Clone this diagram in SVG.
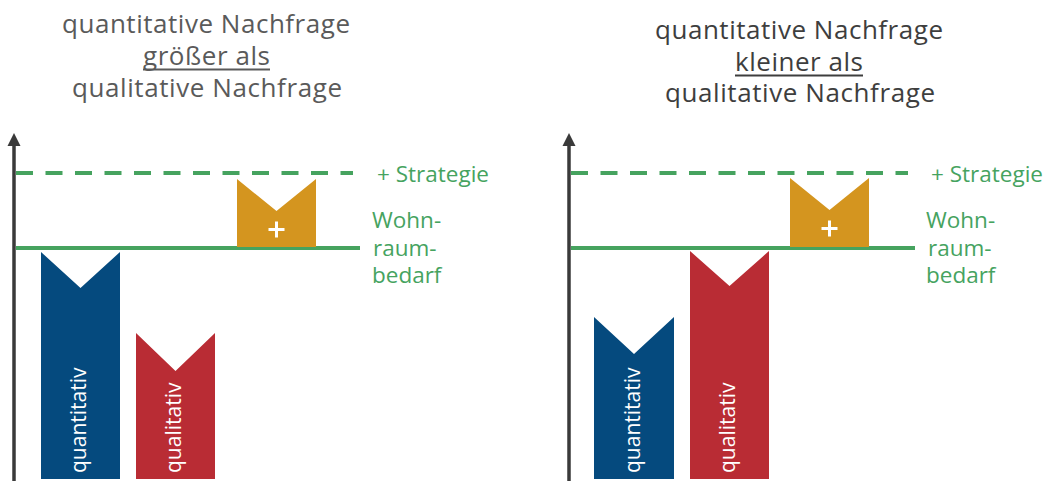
<svg xmlns="http://www.w3.org/2000/svg" width="1056" height="481" viewBox="0 0 1056 481">
  <defs>
    <style>
      .title { font-family: "Open Sans", "Liberation Sans", sans-serif; font-size: 26px; font-weight: 500; text-anchor: middle; }
      .tl { fill: #5a5a5a; }
      .tr { fill: #3e3e3e; }
      .ul { stroke-width: 1.8; }
      .grn { font-family: "Open Sans", "Liberation Sans", sans-serif; font-size: 22.5px; font-weight: 500; fill: #46a35f; }
      .bartxt { font-family: "Open Sans", "Liberation Sans", sans-serif; font-size: 21px; font-weight: 500; fill: #ffffff; }
      .axis { stroke: #3a3a3a; stroke-width: 3.5; fill: none; }
      .base { stroke: url(#gray); stroke-width: 2.5; }
      .solid { stroke: #46a35f; stroke-width: 4; }
      .dash { stroke: #46a35f; stroke-width: 4; stroke-dasharray: 17 12.5; }
      .blue { fill: #054a7e; }
      .red { fill: #b92c34; }
      .gold { fill: #d4951f; }
      .plus { stroke: #ffffff; stroke-width: 3; }
    </style>
    <linearGradient id="gray" x1="0" y1="0" x2="1" y2="0">
      <stop offset="0" stop-color="#444444"/>
      <stop offset="1" stop-color="#aaaaaa"/>
    </linearGradient>
  </defs>

  <!-- Left panel -->
  <g id="title-left">
    <text class="title tl" x="206" y="33" textLength="288" lengthAdjust="spacing">quantitative Nachfrage</text>
    <text class="title tl" x="206.5" y="65" textLength="127" lengthAdjust="spacing">größer als</text>
    <line class="ul" x1="143" y1="69.5" x2="270" y2="69.5" stroke="#5a5a5a"/>
    <text class="title tl" x="207" y="97" textLength="270" lengthAdjust="spacing">qualitative Nachfrage</text>
  </g>

  <g id="connectors">
    <line class="axis" x1="14" y1="481" x2="14" y2="140"/>
    <path d="M7.5,146 L14,133 L20.5,146 Z" fill="#3a3a3a"/>
    <line class="base" x1="12" y1="480" x2="360" y2="480"/>
    <line class="dash" x1="16" y1="173" x2="353" y2="173"/>
    <line class="solid" x1="16" y1="248" x2="360" y2="248"/>

    <line class="axis" x1="569" y1="481" x2="569" y2="140"/>
    <path d="M562.5,146 L569,133 L575.5,146 Z" fill="#3a3a3a"/>
    <line class="base" x1="567" y1="480" x2="915" y2="480"/>
    <line class="dash" x1="571" y1="173" x2="908" y2="173"/>
    <line class="solid" x1="571" y1="248" x2="915" y2="248"/>
  </g>

  <g id="labels-left">
    <text class="grn" x="377" y="182">+ Strategie</text>
    <text class="grn" x="372" y="228">Wohn-</text>
    <text class="grn" x="373" y="256">raum-</text>
    <text class="grn" x="372" y="283">bedarf</text>
  </g>

  <g id="bar-quantitativ-left">
    <path class="blue" d="M41,252 L80.5,288 L120,252 L120,479 L41,479 Z"/>
    <text class="bartxt" transform="translate(86,473) rotate(-90)">quantitativ</text>
  </g>
  <g id="bar-qualitativ-left">
    <path class="red" d="M136,333 L175.5,371 L215,333 L215,479 L136,479 Z"/>
    <text class="bartxt" transform="translate(181,473) rotate(-90)">qualitativ</text>
  </g>
  <g id="bar-strategie-left">
    <path class="gold" d="M237,179 L276.5,211 L316,179 L316,247 L237,247 Z"/>
    <line class="plus" x1="268.5" y1="229.5" x2="284.5" y2="229.5"/>
    <line class="plus" x1="276.5" y1="221.5" x2="276.5" y2="237.5"/>
  </g>

  <!-- Right panel -->
  <g id="title-right">
    <text class="title tr" x="799" y="39" textLength="288" lengthAdjust="spacing">quantitative Nachfrage</text>
    <text class="title tr" x="799" y="71" textLength="128" lengthAdjust="spacing">kleiner als</text>
    <line class="ul" x1="735" y1="75.5" x2="863" y2="75.5" stroke="#3e3e3e"/>
    <text class="title tr" x="800" y="102" textLength="270" lengthAdjust="spacing">qualitative Nachfrage</text>
  </g>

  <g id="labels-right">
    <text class="grn" x="931" y="182">+ Strategie</text>
    <text class="grn" x="926" y="228">Wohn-</text>
    <text class="grn" x="928" y="256">raum-</text>
    <text class="grn" x="926" y="283">bedarf</text>
  </g>

  <g id="bar-quantitativ-right">
    <path class="blue" d="M594,317 L634,354 L674,317 L674,479 L594,479 Z"/>
    <text class="bartxt" transform="translate(640,473) rotate(-90)">quantitativ</text>
  </g>
  <g id="bar-qualitativ-right">
    <path class="red" d="M690,251 L729.5,286 L769,251 L769,479 L690,479 Z"/>
    <text class="bartxt" transform="translate(735,473) rotate(-90)">qualitativ</text>
  </g>
  <g id="bar-strategie-right">
    <path class="gold" d="M790,178 L829.5,210 L869,178 L869,247 L790,247 Z"/>
    <line class="plus" x1="821.5" y1="228.5" x2="837.5" y2="228.5"/>
    <line class="plus" x1="829.5" y1="220.5" x2="829.5" y2="236.5"/>
  </g>
</svg>
